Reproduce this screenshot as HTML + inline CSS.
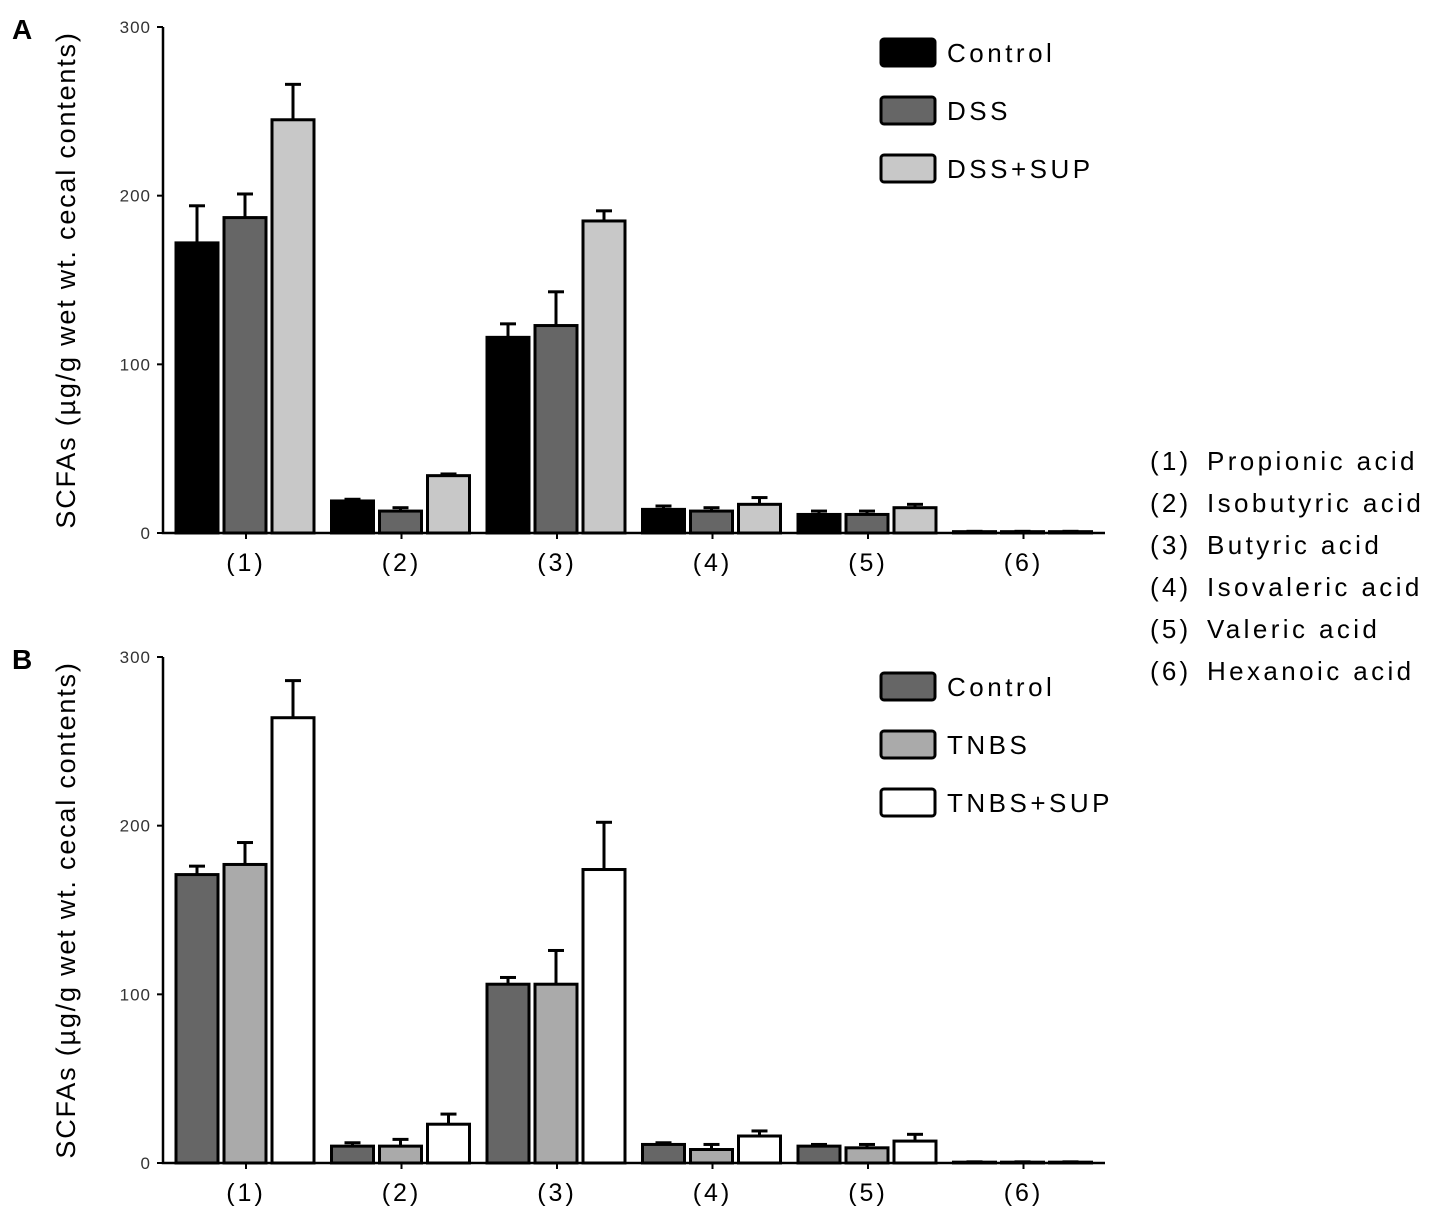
<!DOCTYPE html>
<html><head><meta charset="utf-8"><style>
body{margin:0;background:#fff;}
svg text{font-family:"Liberation Sans",sans-serif;}
</style></head><body>
<svg id="c" width="1441" height="1222" xmlns="http://www.w3.org/2000/svg"></svg>
<script>
const categories=["(1)","(2)","(3)","(4)","(5)","(6)"];
const acidNums=["(1)","(2)","(3)","(4)","(5)","(6)"];
const acidNames=["Propionic acid","Isobutyric acid","Butyric acid","Isovaleric acid","Valeric acid","Hexanoic acid"];
const yTicks=[0,100,200,300];
const seriesA=["Control","DSS","DSS+SUP"];
const aControl=[172,19,116,14,11,0.8];
const aControlErr=[194,20,124,16,13,1];
const aDSS=[187,13,123,13,11,0.8];
const aDSSErr=[201,15,143,15,13,1];
const aSUP=[245,34,185,17,15,0.8];
const aSUPErr=[266,35,191,21,17,1];
const seriesB=["Control","TNBS","TNBS+SUP"];
const bControl=[171,10,106,11,10,0.5];
const bControlErr=[176,12,110,12,11,0.7];
const bTNBS=[177,10,106,8,9,0.5];
const bTNBSErr=[190,14,126,11,11,0.7];
const bSUP=[264,23,174,16,13,0.5];
const bSUPErr=[286,29,202,19,17,0.7];

const svg=document.getElementById('c');
const NS="http://www.w3.org/2000/svg";
function mk(t,a,p){const e=document.createElementNS(NS,t);for(const k in a)e.setAttribute(k,a[k]);(p||svg).appendChild(e);return e;}

function panel(letter,y0,yTop,vals,errs,names,fills,legendY,legendStep){
  const g=mk('g',{});
  
  
  const xL=163,xR=1105;
  const yS=v=>y0-(v/300)*(y0-yTop);
  const xC=i=>246+i*155.5;
  const t=mk('text',{x:12,y:yTop+12,'font-size':28,'font-weight':'bold'},g);t.textContent=letter;
  
  
  const ax=mk('path',{d:`M${xL},${yTop} L${xL},${y0} L${xR},${y0}`,stroke:'#000','stroke-width':2.5,fill:'none'},g);
  
  
  yTicks.forEach(v=>{
    mk('line',{x1:xL-6,x2:xL,y1:yS(v),y2:yS(v),stroke:'#000','stroke-width':2},g);
    const tt=mk('text',{x:xL-12,y:yS(v)+6,'font-size':17,'text-anchor':'end',fill:'#333','letter-spacing':1},g);tt.textContent=v;
    
    
  });
  const yt=mk('text',{transform:`translate(75,${(y0+yTop)/2}) rotate(-90)`,'font-size':27,'text-anchor':'middle','letter-spacing':1.8},g);
  yt.textContent="SCFAs (µg/g wet wt. cecal contents)";
  
  
  categories.forEach((c,i)=>{
    mk('line',{x1:xC(i),x2:xC(i),y1:y0,y2:y0+6,stroke:'#000','stroke-width':2},g);
    const ct=mk('text',{x:xC(i),y:y0+38,'font-size':25,'text-anchor':'middle','letter-spacing':3},g);ct.textContent=c;
    
    
    vals.forEach((s,j)=>{
      const bx=xC(i)-70+j*48;
      const by=yS(s[i]);
      const ey=yS(errs[j][i]);
      const el=mk('line',{x1:bx+21,x2:bx+21,y1:by,y2:ey,stroke:'#000','stroke-width':3},g);
      
      
      mk('line',{x1:bx+13,x2:bx+29,y1:ey,y2:ey,stroke:'#000','stroke-width':3},g);
      const r=mk('rect',{x:bx,y:by,width:42,height:Math.max(y0-by,0.5),fill:fills[j],stroke:'#000','stroke-width':3},g);
      
      
    });
  });
  names.forEach((n,j)=>{
    const ly=legendY+j*legendStep;
    const lr=mk('rect',{x:881,y:ly,width:54,height:27,rx:3,fill:fills[j],stroke:'#000','stroke-width':3},g);
    
    
    const lt=mk('text',{x:947,y:ly+23,'font-size':26,'letter-spacing':3.5},g);lt.textContent=n;
    
    
  });
}
panel('A',533,27,[aControl,aDSS,aSUP],[aControlErr,aDSSErr,aSUPErr],seriesA,['#000','#666','#c8c8c8'],39,58);
panel('B',1163,657,[bControl,bTNBS,bSUP],[bControlErr,bTNBSErr,bSUPErr],seriesB,['#666','#aaa','#fff'],673,58);
acidNames.forEach((n,i)=>{
  const t1=mk('text',{x:1150,y:470+i*42,'font-size':26,'letter-spacing':3.2});
  t1.textContent=acidNums[i];
  
  
  const t=mk('text',{x:1207,y:470+i*42,'font-size':26,'letter-spacing':3.4});
  t.textContent=n;
  
  
});
</script>
</body></html>
